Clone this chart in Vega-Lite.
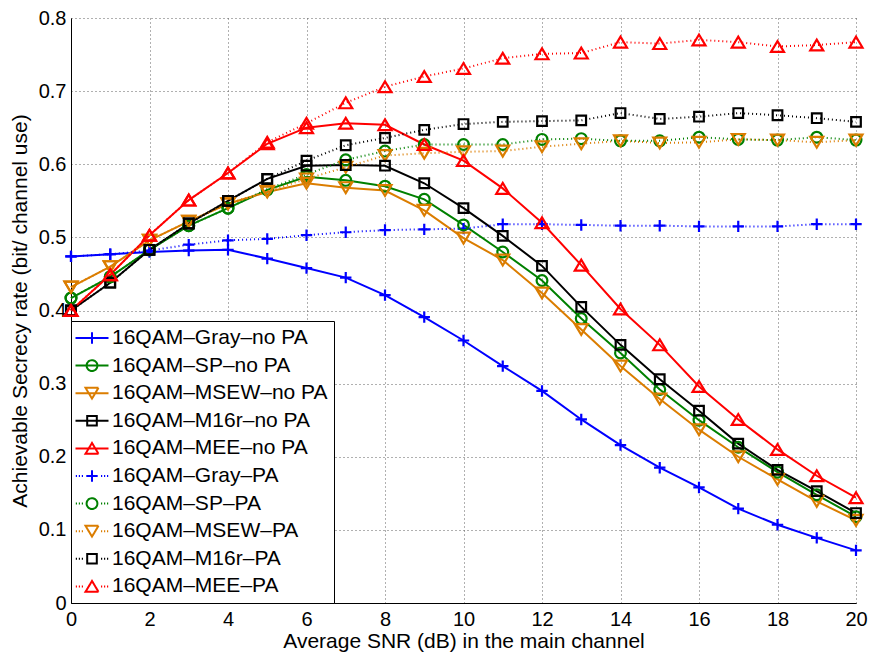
{
  "$schema": "https://vega.github.io/schema/vega-lite/v6.json",
  "width": 785,
  "height": 585,
  "autosize": {"type": "none"},
  "padding": {"left": 71, "top": 18, "right": 23, "bottom": 52},
  "background": "white",
  "config": {
    "view": {"stroke": null},
    "font": "Liberation Sans",
    "axis": {
      "labelFont": "Liberation Sans",
      "titleFont": "Liberation Sans",
      "labelFontSize": 20,
      "titleFontSize": 21,
      "titleFontWeight": "normal",
      "labelColor": "black",
      "titleColor": "black",
      "domainColor": "black",
      "domainWidth": 1,
      "tickColor": "black",
      "grid": true,
      "gridColor": "#606060",
      "gridDash": [1, 3],
      "gridWidth": 1,
      "gridOpacity": 1
    }
  },
  "data": {
    "values": [
      {"series": "16QAM–Gray–no PA", "snr": 0, "rate": 0.474},
      {"series": "16QAM–Gray–no PA", "snr": 1, "rate": 0.477},
      {"series": "16QAM–Gray–no PA", "snr": 2, "rate": 0.480},
      {"series": "16QAM–Gray–no PA", "snr": 3, "rate": 0.482},
      {"series": "16QAM–Gray–no PA", "snr": 4, "rate": 0.483},
      {"series": "16QAM–Gray–no PA", "snr": 5, "rate": 0.471},
      {"series": "16QAM–Gray–no PA", "snr": 6, "rate": 0.458},
      {"series": "16QAM–Gray–no PA", "snr": 7, "rate": 0.445},
      {"series": "16QAM–Gray–no PA", "snr": 8, "rate": 0.421},
      {"series": "16QAM–Gray–no PA", "snr": 9, "rate": 0.391},
      {"series": "16QAM–Gray–no PA", "snr": 10, "rate": 0.359},
      {"series": "16QAM–Gray–no PA", "snr": 11, "rate": 0.324},
      {"series": "16QAM–Gray–no PA", "snr": 12, "rate": 0.290},
      {"series": "16QAM–Gray–no PA", "snr": 13, "rate": 0.251},
      {"series": "16QAM–Gray–no PA", "snr": 14, "rate": 0.216},
      {"series": "16QAM–Gray–no PA", "snr": 15, "rate": 0.185},
      {"series": "16QAM–Gray–no PA", "snr": 16, "rate": 0.158},
      {"series": "16QAM–Gray–no PA", "snr": 17, "rate": 0.129},
      {"series": "16QAM–Gray–no PA", "snr": 18, "rate": 0.107},
      {"series": "16QAM–Gray–no PA", "snr": 19, "rate": 0.089},
      {"series": "16QAM–Gray–no PA", "snr": 20, "rate": 0.072},

      {"series": "16QAM–SP–no PA", "snr": 0, "rate": 0.417},
      {"series": "16QAM–SP–no PA", "snr": 1, "rate": 0.446},
      {"series": "16QAM–SP–no PA", "snr": 2, "rate": 0.483},
      {"series": "16QAM–SP–no PA", "snr": 3, "rate": 0.516},
      {"series": "16QAM–SP–no PA", "snr": 4, "rate": 0.540},
      {"series": "16QAM–SP–no PA", "snr": 5, "rate": 0.565},
      {"series": "16QAM–SP–no PA", "snr": 6, "rate": 0.583},
      {"series": "16QAM–SP–no PA", "snr": 7, "rate": 0.578},
      {"series": "16QAM–SP–no PA", "snr": 8, "rate": 0.570},
      {"series": "16QAM–SP–no PA", "snr": 9, "rate": 0.552},
      {"series": "16QAM–SP–no PA", "snr": 10, "rate": 0.517},
      {"series": "16QAM–SP–no PA", "snr": 11, "rate": 0.480},
      {"series": "16QAM–SP–no PA", "snr": 12, "rate": 0.441},
      {"series": "16QAM–SP–no PA", "snr": 13, "rate": 0.389},
      {"series": "16QAM–SP–no PA", "snr": 14, "rate": 0.342},
      {"series": "16QAM–SP–no PA", "snr": 15, "rate": 0.292},
      {"series": "16QAM–SP–no PA", "snr": 16, "rate": 0.250},
      {"series": "16QAM–SP–no PA", "snr": 17, "rate": 0.213},
      {"series": "16QAM–SP–no PA", "snr": 18, "rate": 0.179},
      {"series": "16QAM–SP–no PA", "snr": 19, "rate": 0.148},
      {"series": "16QAM–SP–no PA", "snr": 20, "rate": 0.118},

      {"series": "16QAM–MSEW–no PA", "snr": 0, "rate": 0.432},
      {"series": "16QAM–MSEW–no PA", "snr": 1, "rate": 0.460},
      {"series": "16QAM–MSEW–no PA", "snr": 2, "rate": 0.496},
      {"series": "16QAM–MSEW–no PA", "snr": 3, "rate": 0.522},
      {"series": "16QAM–MSEW–no PA", "snr": 4, "rate": 0.546},
      {"series": "16QAM–MSEW–no PA", "snr": 5, "rate": 0.562},
      {"series": "16QAM–MSEW–no PA", "snr": 6, "rate": 0.574},
      {"series": "16QAM–MSEW–no PA", "snr": 7, "rate": 0.568},
      {"series": "16QAM–MSEW–no PA", "snr": 8, "rate": 0.564},
      {"series": "16QAM–MSEW–no PA", "snr": 9, "rate": 0.537},
      {"series": "16QAM–MSEW–no PA", "snr": 10, "rate": 0.499},
      {"series": "16QAM–MSEW–no PA", "snr": 11, "rate": 0.469},
      {"series": "16QAM–MSEW–no PA", "snr": 12, "rate": 0.424},
      {"series": "16QAM–MSEW–no PA", "snr": 13, "rate": 0.374},
      {"series": "16QAM–MSEW–no PA", "snr": 14, "rate": 0.324},
      {"series": "16QAM–MSEW–no PA", "snr": 15, "rate": 0.279},
      {"series": "16QAM–MSEW–no PA", "snr": 16, "rate": 0.237},
      {"series": "16QAM–MSEW–no PA", "snr": 17, "rate": 0.200},
      {"series": "16QAM–MSEW–no PA", "snr": 18, "rate": 0.169},
      {"series": "16QAM–MSEW–no PA", "snr": 19, "rate": 0.139},
      {"series": "16QAM–MSEW–no PA", "snr": 20, "rate": 0.113},

      {"series": "16QAM–M16r–no PA", "snr": 0, "rate": 0.400},
      {"series": "16QAM–M16r–no PA", "snr": 1, "rate": 0.438},
      {"series": "16QAM–M16r–no PA", "snr": 2, "rate": 0.483},
      {"series": "16QAM–M16r–no PA", "snr": 3, "rate": 0.519},
      {"series": "16QAM–M16r–no PA", "snr": 4, "rate": 0.550},
      {"series": "16QAM–M16r–no PA", "snr": 5, "rate": 0.580},
      {"series": "16QAM–M16r–no PA", "snr": 6, "rate": 0.598},
      {"series": "16QAM–M16r–no PA", "snr": 7, "rate": 0.599},
      {"series": "16QAM–M16r–no PA", "snr": 8, "rate": 0.598},
      {"series": "16QAM–M16r–no PA", "snr": 9, "rate": 0.574},
      {"series": "16QAM–M16r–no PA", "snr": 10, "rate": 0.540},
      {"series": "16QAM–M16r–no PA", "snr": 11, "rate": 0.502},
      {"series": "16QAM–M16r–no PA", "snr": 12, "rate": 0.461},
      {"series": "16QAM–M16r–no PA", "snr": 13, "rate": 0.405},
      {"series": "16QAM–M16r–no PA", "snr": 14, "rate": 0.353},
      {"series": "16QAM–M16r–no PA", "snr": 15, "rate": 0.306},
      {"series": "16QAM–M16r–no PA", "snr": 16, "rate": 0.263},
      {"series": "16QAM–M16r–no PA", "snr": 17, "rate": 0.218},
      {"series": "16QAM–M16r–no PA", "snr": 18, "rate": 0.182},
      {"series": "16QAM–M16r–no PA", "snr": 19, "rate": 0.153},
      {"series": "16QAM–M16r–no PA", "snr": 20, "rate": 0.123},

      {"series": "16QAM–MEE–no PA", "snr": 0, "rate": 0.400},
      {"series": "16QAM–MEE–no PA", "snr": 1, "rate": 0.449},
      {"series": "16QAM–MEE–no PA", "snr": 2, "rate": 0.503},
      {"series": "16QAM–MEE–no PA", "snr": 3, "rate": 0.551},
      {"series": "16QAM–MEE–no PA", "snr": 4, "rate": 0.588},
      {"series": "16QAM–MEE–no PA", "snr": 5, "rate": 0.628},
      {"series": "16QAM–MEE–no PA", "snr": 6, "rate": 0.650},
      {"series": "16QAM–MEE–no PA", "snr": 7, "rate": 0.656},
      {"series": "16QAM–MEE–no PA", "snr": 8, "rate": 0.654},
      {"series": "16QAM–MEE–no PA", "snr": 9, "rate": 0.627},
      {"series": "16QAM–MEE–no PA", "snr": 10, "rate": 0.605},
      {"series": "16QAM–MEE–no PA", "snr": 11, "rate": 0.567},
      {"series": "16QAM–MEE–no PA", "snr": 12, "rate": 0.520},
      {"series": "16QAM–MEE–no PA", "snr": 13, "rate": 0.462},
      {"series": "16QAM–MEE–no PA", "snr": 14, "rate": 0.402},
      {"series": "16QAM–MEE–no PA", "snr": 15, "rate": 0.353},
      {"series": "16QAM–MEE–no PA", "snr": 16, "rate": 0.296},
      {"series": "16QAM–MEE–no PA", "snr": 17, "rate": 0.251},
      {"series": "16QAM–MEE–no PA", "snr": 18, "rate": 0.210},
      {"series": "16QAM–MEE–no PA", "snr": 19, "rate": 0.174},
      {"series": "16QAM–MEE–no PA", "snr": 20, "rate": 0.144},

      {"series": "16QAM–Gray–PA", "snr": 0, "rate": 0.474},
      {"series": "16QAM–Gray–PA", "snr": 1, "rate": 0.477},
      {"series": "16QAM–Gray–PA", "snr": 2, "rate": 0.482},
      {"series": "16QAM–Gray–PA", "snr": 3, "rate": 0.490},
      {"series": "16QAM–Gray–PA", "snr": 4, "rate": 0.496},
      {"series": "16QAM–Gray–PA", "snr": 5, "rate": 0.498},
      {"series": "16QAM–Gray–PA", "snr": 6, "rate": 0.503},
      {"series": "16QAM–Gray–PA", "snr": 7, "rate": 0.507},
      {"series": "16QAM–Gray–PA", "snr": 8, "rate": 0.510},
      {"series": "16QAM–Gray–PA", "snr": 9, "rate": 0.511},
      {"series": "16QAM–Gray–PA", "snr": 10, "rate": 0.512},
      {"series": "16QAM–Gray–PA", "snr": 11, "rate": 0.518},
      {"series": "16QAM–Gray–PA", "snr": 12, "rate": 0.518},
      {"series": "16QAM–Gray–PA", "snr": 13, "rate": 0.517},
      {"series": "16QAM–Gray–PA", "snr": 14, "rate": 0.516},
      {"series": "16QAM–Gray–PA", "snr": 15, "rate": 0.516},
      {"series": "16QAM–Gray–PA", "snr": 16, "rate": 0.515},
      {"series": "16QAM–Gray–PA", "snr": 17, "rate": 0.515},
      {"series": "16QAM–Gray–PA", "snr": 18, "rate": 0.515},
      {"series": "16QAM–Gray–PA", "snr": 19, "rate": 0.518},
      {"series": "16QAM–Gray–PA", "snr": 20, "rate": 0.518},

      {"series": "16QAM–SP–PA", "snr": 0, "rate": 0.417},
      {"series": "16QAM–SP–PA", "snr": 1, "rate": 0.446},
      {"series": "16QAM–SP–PA", "snr": 2, "rate": 0.483},
      {"series": "16QAM–SP–PA", "snr": 3, "rate": 0.516},
      {"series": "16QAM–SP–PA", "snr": 4, "rate": 0.540},
      {"series": "16QAM–SP–PA", "snr": 5, "rate": 0.566},
      {"series": "16QAM–SP–PA", "snr": 6, "rate": 0.586},
      {"series": "16QAM–SP–PA", "snr": 7, "rate": 0.606},
      {"series": "16QAM–SP–PA", "snr": 8, "rate": 0.618},
      {"series": "16QAM–SP–PA", "snr": 9, "rate": 0.627},
      {"series": "16QAM–SP–PA", "snr": 10, "rate": 0.627},
      {"series": "16QAM–SP–PA", "snr": 11, "rate": 0.627},
      {"series": "16QAM–SP–PA", "snr": 12, "rate": 0.634},
      {"series": "16QAM–SP–PA", "snr": 13, "rate": 0.635},
      {"series": "16QAM–SP–PA", "snr": 14, "rate": 0.632},
      {"series": "16QAM–SP–PA", "snr": 15, "rate": 0.632},
      {"series": "16QAM–SP–PA", "snr": 16, "rate": 0.637},
      {"series": "16QAM–SP–PA", "snr": 17, "rate": 0.634},
      {"series": "16QAM–SP–PA", "snr": 18, "rate": 0.633},
      {"series": "16QAM–SP–PA", "snr": 19, "rate": 0.637},
      {"series": "16QAM–SP–PA", "snr": 20, "rate": 0.633},

      {"series": "16QAM–MSEW–PA", "snr": 0, "rate": 0.432},
      {"series": "16QAM–MSEW–PA", "snr": 1, "rate": 0.460},
      {"series": "16QAM–MSEW–PA", "snr": 2, "rate": 0.496},
      {"series": "16QAM–MSEW–PA", "snr": 3, "rate": 0.522},
      {"series": "16QAM–MSEW–PA", "snr": 4, "rate": 0.546},
      {"series": "16QAM–MSEW–PA", "snr": 5, "rate": 0.563},
      {"series": "16QAM–MSEW–PA", "snr": 6, "rate": 0.580},
      {"series": "16QAM–MSEW–PA", "snr": 7, "rate": 0.596},
      {"series": "16QAM–MSEW–PA", "snr": 8, "rate": 0.612},
      {"series": "16QAM–MSEW–PA", "snr": 9, "rate": 0.615},
      {"series": "16QAM–MSEW–PA", "snr": 10, "rate": 0.617},
      {"series": "16QAM–MSEW–PA", "snr": 11, "rate": 0.618},
      {"series": "16QAM–MSEW–PA", "snr": 12, "rate": 0.624},
      {"series": "16QAM–MSEW–PA", "snr": 13, "rate": 0.628},
      {"series": "16QAM–MSEW–PA", "snr": 14, "rate": 0.632},
      {"series": "16QAM–MSEW–PA", "snr": 15, "rate": 0.629},
      {"series": "16QAM–MSEW–PA", "snr": 16, "rate": 0.630},
      {"series": "16QAM–MSEW–PA", "snr": 17, "rate": 0.634},
      {"series": "16QAM–MSEW–PA", "snr": 18, "rate": 0.633},
      {"series": "16QAM–MSEW–PA", "snr": 19, "rate": 0.630},
      {"series": "16QAM–MSEW–PA", "snr": 20, "rate": 0.633},

      {"series": "16QAM–M16r–PA", "snr": 0, "rate": 0.400},
      {"series": "16QAM–M16r–PA", "snr": 1, "rate": 0.438},
      {"series": "16QAM–M16r–PA", "snr": 2, "rate": 0.483},
      {"series": "16QAM–M16r–PA", "snr": 3, "rate": 0.519},
      {"series": "16QAM–M16r–PA", "snr": 4, "rate": 0.550},
      {"series": "16QAM–M16r–PA", "snr": 5, "rate": 0.580},
      {"series": "16QAM–M16r–PA", "snr": 6, "rate": 0.605},
      {"series": "16QAM–M16r–PA", "snr": 7, "rate": 0.626},
      {"series": "16QAM–M16r–PA", "snr": 8, "rate": 0.636},
      {"series": "16QAM–M16r–PA", "snr": 9, "rate": 0.647},
      {"series": "16QAM–M16r–PA", "snr": 10, "rate": 0.655},
      {"series": "16QAM–M16r–PA", "snr": 11, "rate": 0.658},
      {"series": "16QAM–M16r–PA", "snr": 12, "rate": 0.659},
      {"series": "16QAM–M16r–PA", "snr": 13, "rate": 0.660},
      {"series": "16QAM–M16r–PA", "snr": 14, "rate": 0.670},
      {"series": "16QAM–M16r–PA", "snr": 15, "rate": 0.662},
      {"series": "16QAM–M16r–PA", "snr": 16, "rate": 0.665},
      {"series": "16QAM–M16r–PA", "snr": 17, "rate": 0.670},
      {"series": "16QAM–M16r–PA", "snr": 18, "rate": 0.667},
      {"series": "16QAM–M16r–PA", "snr": 19, "rate": 0.663},
      {"series": "16QAM–M16r–PA", "snr": 20, "rate": 0.658},

      {"series": "16QAM–MEE–PA", "snr": 0, "rate": 0.400},
      {"series": "16QAM–MEE–PA", "snr": 1, "rate": 0.449},
      {"series": "16QAM–MEE–PA", "snr": 2, "rate": 0.503},
      {"series": "16QAM–MEE–PA", "snr": 3, "rate": 0.551},
      {"series": "16QAM–MEE–PA", "snr": 4, "rate": 0.588},
      {"series": "16QAM–MEE–PA", "snr": 5, "rate": 0.630},
      {"series": "16QAM–MEE–PA", "snr": 6, "rate": 0.656},
      {"series": "16QAM–MEE–PA", "snr": 7, "rate": 0.684},
      {"series": "16QAM–MEE–PA", "snr": 8, "rate": 0.706},
      {"series": "16QAM–MEE–PA", "snr": 9, "rate": 0.720},
      {"series": "16QAM–MEE–PA", "snr": 10, "rate": 0.731},
      {"series": "16QAM–MEE–PA", "snr": 11, "rate": 0.745},
      {"series": "16QAM–MEE–PA", "snr": 12, "rate": 0.751},
      {"series": "16QAM–MEE–PA", "snr": 13, "rate": 0.752},
      {"series": "16QAM–MEE–PA", "snr": 14, "rate": 0.767},
      {"series": "16QAM–MEE–PA", "snr": 15, "rate": 0.765},
      {"series": "16QAM–MEE–PA", "snr": 16, "rate": 0.770},
      {"series": "16QAM–MEE–PA", "snr": 17, "rate": 0.767},
      {"series": "16QAM–MEE–PA", "snr": 18, "rate": 0.761},
      {"series": "16QAM–MEE–PA", "snr": 19, "rate": 0.763},
      {"series": "16QAM–MEE–PA", "snr": 20, "rate": 0.767}
    ]
  },
  "encoding": {
    "x": {
      "field": "snr",
      "type": "quantitative",
      "title": "Average SNR (dB) in the main channel",
      "scale": {"domain": [0, 20], "nice": false, "zero": false},
      "axis": {
        "values": [0, 2, 4, 6, 8, 10, 12, 14, 16, 18, 20],
        "ticks": false,
        "labelPadding": 6,
        "titlePadding": 1,
        "labelFlush": false
      }
    },
    "y": {
      "field": "rate",
      "type": "quantitative",
      "title": "Achievable Secrecy rate (bit/ channel use)",
      "scale": {"domain": [0, 0.8], "nice": false, "zero": false},
      "axis": {
        "values": [0, 0.1, 0.2, 0.3, 0.4, 0.5, 0.6, 0.7, 0.8],
        "labelExpr": "datum.value == 0 ? '0' : format(datum.value, '.1f')",
        "ticks": false,
        "labelPadding": 5,
        "titlePadding": 8,
        "labelFlush": false
      }
    },
    "color": {
      "field": "series",
      "type": "nominal",
      "scale": {
        "domain": ["16QAM–Gray–no PA", "16QAM–SP–no PA", "16QAM–MSEW–no PA", "16QAM–M16r–no PA", "16QAM–MEE–no PA", "16QAM–Gray–PA", "16QAM–SP–PA", "16QAM–MSEW–PA", "16QAM–M16r–PA", "16QAM–MEE–PA"],
        "range": ["#0000FF", "#008000", "#DB7D00", "#000000", "#FF0000", "#0000FF", "#008000", "#DB7D00", "#000000", "#FF0000"]
      },
      "legend": {
        "title": null,
        "orient": "bottom-left",
        "offset": 0,
        "padding": 6,
        "rowPadding": 6.6,
        "symbolSize": 400,
        "symbolStrokeWidth": 2,
        "symbolType": "circle",
        "symbolOffset": 4,
        "labelFont": "Liberation Sans",
        "labelFontSize": 21,
        "labelColor": "black",
        "labelLimit": 400,
        "labelOffset": 9,
        "strokeColor": "black",
        "fillColor": "white",
        "encode": {
          "symbols": {
            "update": {
              "fill": {"value": "transparent"},
              "strokeDash": {"value": [1, 0]},
              "shape": {
                "signal": "{'16QAM–Gray–no PA': 'M-1.65,0L1.65,0M-0.57,0L0.57,0M0,-0.57L0,0.57', '16QAM–SP–no PA': 'M-1.65,0L1.65,0M0.54,0A0.54,0.54,0,1,1,-0.54,0A0.54,0.54,0,1,1,0.54,0', '16QAM–MSEW–no PA': 'M-1.65,0L1.65,0M-0.65,-0.54L0.65,-0.54L0,0.54Z', '16QAM–M16r–no PA': 'M-1.65,0L1.65,0M-0.48,-0.48L0.48,-0.48L0.48,0.48L-0.48,0.48Z', '16QAM–MEE–no PA': 'M-1.65,0L1.65,0M-0.65,0.54L0.65,0.54L0,-0.54Z', '16QAM–Gray–PA': 'M-1.62,0L-1.5,0M-1.32,0L-1.2,0M-1.02,0L-0.9,0M0.9,0L1.02,0M1.2,0L1.32,0M1.5,0L1.62,0M-0.57,0L0.57,0M0,-0.57L0,0.57', '16QAM–SP–PA': 'M-1.62,0L-1.5,0M-1.32,0L-1.2,0M-1.02,0L-0.9,0M0.9,0L1.02,0M1.2,0L1.32,0M1.5,0L1.62,0M0.54,0A0.54,0.54,0,1,1,-0.54,0A0.54,0.54,0,1,1,0.54,0', '16QAM–MSEW–PA': 'M-1.62,0L-1.5,0M-1.32,0L-1.2,0M-1.02,0L-0.9,0M0.9,0L1.02,0M1.2,0L1.32,0M1.5,0L1.62,0M-0.65,-0.54L0.65,-0.54L0,0.54Z', '16QAM–M16r–PA': 'M-1.62,0L-1.5,0M-1.32,0L-1.2,0M-1.02,0L-0.9,0M0.9,0L1.02,0M1.2,0L1.32,0M1.5,0L1.62,0M-0.48,-0.48L0.48,-0.48L0.48,0.48L-0.48,0.48Z', '16QAM–MEE–PA': 'M-1.62,0L-1.5,0M-1.32,0L-1.2,0M-1.02,0L-0.9,0M0.9,0L1.02,0M1.2,0L1.32,0M1.5,0L1.62,0M-0.65,0.54L0.65,0.54L0,-0.54Z'}[datum.value]"
              }
            }
          }
        }
      }
    }
  },
  "layer": [
    {
      "transform": [{"filter": {"field": "series", "oneOf": ["16QAM–Gray–no PA", "16QAM–SP–no PA", "16QAM–MSEW–no PA", "16QAM–M16r–no PA", "16QAM–MEE–no PA"]}}],
      "mark": {"type": "line", "strokeWidth": 2}
    },
    {
      "transform": [{"filter": {"field": "series", "oneOf": ["16QAM–Gray–PA", "16QAM–SP–PA", "16QAM–MSEW–PA", "16QAM–M16r–PA", "16QAM–MEE–PA"]}}],
      "mark": {"type": "line", "strokeWidth": 2, "strokeDash": [1, 3]}
    },
    {
      "transform": [{"filter": {"field": "series", "oneOf": ["16QAM–Gray–no PA", "16QAM–Gray–PA"]}}],
      "mark": {"type": "point", "filled": false, "strokeWidth": 2.2, "size": 144, "opacity": 1, "shape": "M-0.95,0L0.95,0M0,-0.95L0,0.95"}
    },
    {
      "transform": [{"filter": {"field": "series", "oneOf": ["16QAM–SP–no PA", "16QAM–SP–PA"]}}],
      "mark": {"type": "point", "filled": false, "strokeWidth": 2.2, "size": 144, "opacity": 1, "shape": "M0.9,0A0.9,0.9,0,1,1,-0.9,0A0.9,0.9,0,1,1,0.9,0"}
    },
    {
      "transform": [{"filter": {"field": "series", "oneOf": ["16QAM–MSEW–no PA", "16QAM–MSEW–PA"]}}],
      "mark": {"type": "point", "filled": false, "strokeWidth": 2.2, "size": 144, "opacity": 1, "shape": "M-1.08,-0.9L1.08,-0.9L0,0.9Z"}
    },
    {
      "transform": [{"filter": {"field": "series", "oneOf": ["16QAM–M16r–no PA", "16QAM–M16r–PA"]}}],
      "mark": {"type": "point", "filled": false, "strokeWidth": 2.2, "size": 144, "opacity": 1, "shape": "M-0.8,-0.8L0.8,-0.8L0.8,0.8L-0.8,0.8Z"}
    },
    {
      "transform": [{"filter": {"field": "series", "oneOf": ["16QAM–MEE–no PA", "16QAM–MEE–PA"]}}],
      "mark": {"type": "point", "filled": false, "strokeWidth": 2.2, "size": 144, "opacity": 1, "shape": "M-1.08,0.9L1.08,0.9L0,-0.9Z"}
    }
  ]
}
